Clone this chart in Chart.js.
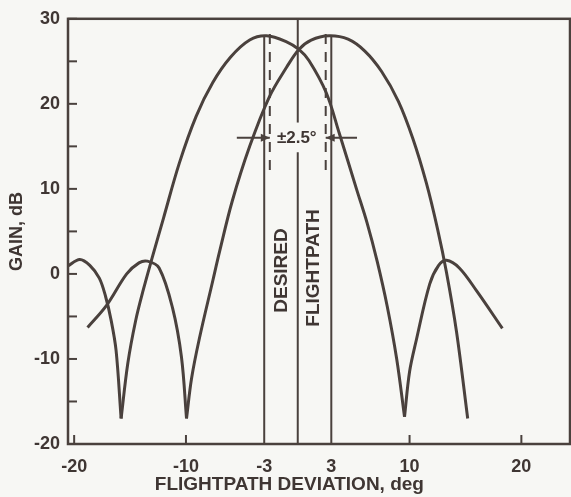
<!DOCTYPE html>
<html>
<head>
<meta charset="utf-8">
<script src="https://cdn.jsdelivr.net/npm/chart.js@4"></script>
<style>
  html, body { margin: 0; padding: 0; background: #f7f7f4; }
  canvas { display: block; }
</style>
</head>
<body>
<canvas id="gainChart" width="571" height="497"></canvas>
<script>
// beam patterns: [deviation deg, gain dB]
var leftBeamOuter = [[-20.6, 0.9], [-19.5, 1.7], [-18.6, 1.0], [-17.75, -0.5], [-17.2, -2.6], [-16.7, -5.4], [-16.25, -9.0], [-15.8, -17.0]];
var leftBeamMain = [[-15.8, -17.0], [-15.2, -10.5], [-14.5, -5.5], [-13.8, -1.8], [-13.0, 2.0], [-12.0, 6.6], [-10.6, 13.0],
    [-9.1, 18.5], [-7.6, 22.5], [-6.0, 25.5], [-4.3, 27.5], [-2.8, 28.0], [-1.0, 27.3], [0.1, 26.4], [1.0, 25.1],
    [2.55, 21.3], [3.7, 16.6], [5.25, 10.0], [6.2, 6.0], [7.1, 1.5], [8.0, -3.8], [8.85, -10.0], [9.55, -16.8]];
var leftBeamInner = [[9.55, -16.8], [10.0, -11.5], [10.6, -7.8], [11.8, -1.2], [12.6, 1.0], [13.3, 1.6], [14.45, 0.7], [16.0, -2.0], [18.3, -6.4]];
var rightBeamOuter = [[-18.8, -6.3], [-17.1, -3.7], [-15.3, 0.0], [-14.2, 1.3], [-13.45, 1.5], [-12.4, 0.7], [-11.2, -4.0], [-10.4, -9.8], [-9.95, -17.0]];
var rightBeamMain = [[-9.95, -17.0], [-9.5, -12.3], [-8.8, -7.6], [-7.6, -0.8], [-7.0, 2.6], [-5.85, 8.6], [-4.3, 15.0],
    [-2.55, 20.8], [-1.0, 24.3], [0.1, 26.4], [1.2, 27.5], [2.8, 28.0], [4.5, 27.6], [6.0, 26.2], [7.5, 23.8],
    [9.0, 20.3], [10.3, 15.9], [11.5, 10.7], [12.5, 5.3], [13.3, 0.2], [14.2, -6.8], [15.2, -17.0]];

var xTickLabels = [-20, -10, -3, 3, 10, 20];
var xTickMarks = [-20, -10, 10, 20];

var ink = '#4a413d';
var textInk = '#3f3633';
var font = '"Liberation Sans", Arial, sans-serif';

function toPoints(arr) {
    return arr.map(function(p) { return { x: p[0], y: p[1] }; });
}

function lobe(arr) {
    return {
        data: toPoints(arr),
        borderColor: ink,
        borderWidth: 3,
        pointRadius: 0,
        fill: false,
        tension: 0.35
    };
}

function line(ctx, x1, y1, x2, y2) {
    ctx.beginPath();
    ctx.moveTo(x1, y1);
    ctx.lineTo(x2, y2);
    ctx.stroke();
}

function arrowHead(ctx, tipX, tipY, dir) {
    ctx.beginPath();
    ctx.moveTo(tipX, tipY);
    ctx.lineTo(tipX - dir * 9, tipY - 4);
    ctx.lineTo(tipX - dir * 9, tipY + 4);
    ctx.closePath();
    ctx.fill();
}

var paper = {
    id: 'paper',
    beforeDraw: function(chart) {
        var ctx = chart.ctx;
        ctx.save();
        ctx.fillStyle = '#f7f7f4';
        ctx.fillRect(0, 0, chart.width, chart.height);
        ctx.restore();
    }
};

var overlay = {
    id: 'overlay',
    afterDatasetsDraw: function(chart) {
        var ctx = chart.ctx;
        var a = chart.chartArea;
        var x = chart.scales.x;
        var y = chart.scales.y;
        ctx.save();
        ctx.strokeStyle = ink;
        ctx.fillStyle = ink;

        // frame
        ctx.lineWidth = 2.5;
        ctx.strokeRect(a.left, a.top, a.right - a.left, a.bottom - a.top);

        // inward tick marks
        ctx.lineWidth = 2;
        y.ticks.forEach(function(t) {
            var py = y.getPixelForValue(t.value);
            line(ctx, a.left, py, a.left + 9, py);
        });
        xTickMarks.forEach(function(v) {
            var px = x.getPixelForValue(v);
            line(ctx, px, a.bottom, px, a.bottom - 9);
        });

        // flightpath limits
        [-3, 3].forEach(function(v) {
            var px = x.getPixelForValue(v);
            line(ctx, px, y.getPixelForValue(28), px, a.bottom);
        });
        var cx = x.getPixelForValue(0);
        line(ctx, cx, a.top, cx, y.getPixelForValue(17.8));
        line(ctx, cx, y.getPixelForValue(14.3), cx, a.bottom);

        // ±2.5° dashed
        ctx.setLineDash([10, 8]);
        [-2.5, 2.5].forEach(function(v) {
            var px = x.getPixelForValue(v);
            line(ctx, px, y.getPixelForValue(28.2), px, y.getPixelForValue(11.6));
        });
        ctx.setLineDash([]);

        // arrows
        var ay = y.getPixelForValue(16);
        var l1 = x.getPixelForValue(-5.45), l2 = x.getPixelForValue(-2.5);
        var r1 = x.getPixelForValue(5.3), r2 = x.getPixelForValue(2.5);
        line(ctx, l1, ay, l2, ay);
        line(ctx, r1, ay, r2, ay);
        arrowHead(ctx, l2, ay, 1);
        arrowHead(ctx, r2, ay, -1);

        ctx.textAlign = 'center';
        ctx.textBaseline = 'middle';
        ctx.fillStyle = textInk;
        ctx.font = 'bold 17px ' + font;
        ctx.fillText('±2.5°', cx - 1, ay);

        ctx.font = 'bold 19px ' + font;
        [['DESIRED', -1.4, 0.4], ['FLIGHTPATH', 1.4, 0.7]].forEach(function(t) {
            ctx.save();
            ctx.translate(x.getPixelForValue(t[1]), y.getPixelForValue(t[2]));
            ctx.rotate(-Math.PI / 2);
            ctx.fillText(t[0], 0, 0);
            ctx.restore();
        });

        // x axis title, centred under the flightpath rather than the axis
        ctx.font = 'bold 19px ' + font;
        ctx.fillText('FLIGHTPATH DEVIATION, deg', x.getPixelForValue(-0.75), a.bottom + 41);
        ctx.restore();
    }
};

document.addEventListener('DOMContentLoaded', function() {
    var ctx = document.getElementById('gainChart').getContext('2d');
    var gainChart = new Chart(ctx, {
        type: 'line',
        data: {
            datasets: [
                lobe(leftBeamOuter), lobe(leftBeamMain), lobe(leftBeamInner),
                lobe(rightBeamOuter), lobe(rightBeamMain)
            ]
        },
        options: {
            responsive: false,
            animation: false,
            layout: { padding: { top: 14, right: 1, left: 0, bottom: 0 } },
            scales: {
                x: {
                    type: 'linear',
                    min: -20.55,
                    max: 24.35,
                    afterBuildTicks: function(scale) {
                        scale.ticks = xTickLabels.map(function(v) { return { value: v }; });
                    },
                    afterFit: function(scale) { scale.height = 53; },
                    grid: { display: false, drawTicks: false },
                    border: { display: false },
                    ticks: {
                        autoSkip: false,
                        maxRotation: 0,
                        padding: 12,
                        color: textInk,
                        font: { family: font, size: 18, weight: 'bold' }
                    }
                },
                y: {
                    min: -20,
                    max: 30,
                    afterFit: function(scale) { scale.width = 68; },
                    grid: { display: false, drawTicks: false },
                    border: { display: false },
                    ticks: {
                        stepSize: 5,
                        padding: 8,
                        color: textInk,
                        font: { family: font, size: 18, weight: 'bold' },
                        callback: function(value) {
                            return value % 10 === 0 ? value : '';
                        }
                    },
                    title: {
                        display: true,
                        text: 'GAIN, dB',
                        color: textInk,
                        padding: { top: 6, bottom: 0 },
                        font: { family: font, size: 18, weight: 'bold' }
                    }
                }
            },
            plugins: {
                legend: { display: false },
                tooltip: { enabled: false }
            }
        },
        plugins: [paper, overlay]
    });
});
</script>
</body>
</html>
